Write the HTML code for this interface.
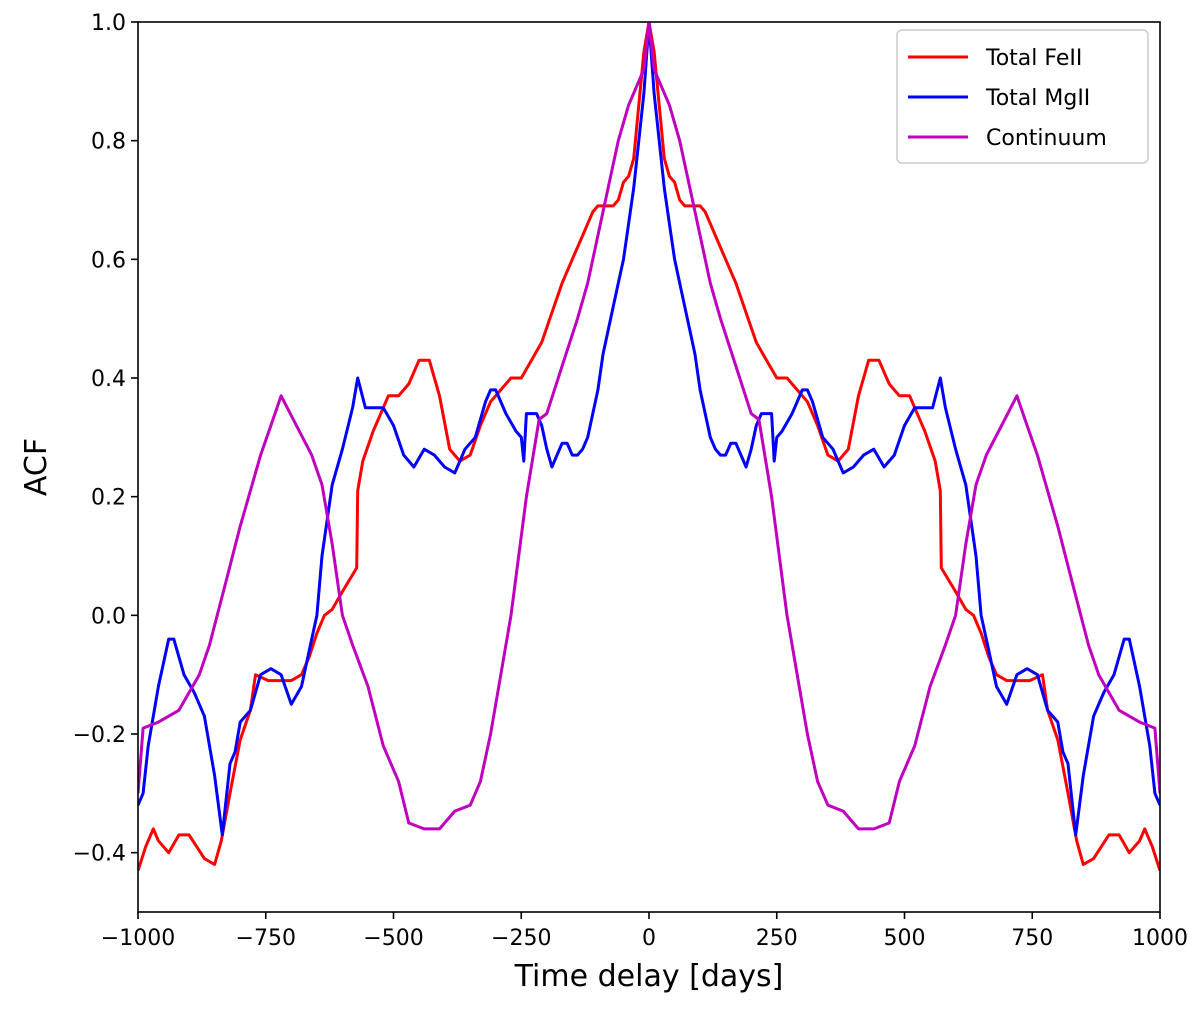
<!DOCTYPE html>
<html><head><meta charset="utf-8"><style>
body{margin:0;background:#fff;}
svg text{font-family:"DejaVu Sans","Liberation Sans",sans-serif;}
</style></head><body>
<svg id="chart" width="1200" height="1004" viewBox="0 0 1200 1004" xmlns="http://www.w3.org/2000/svg"></svg>
<script>
const xTicks=[-1000,-750,-500,-250,0,250,500,750,1000];
const xTickLabels=["\u22121000","\u2212750","\u2212500","\u2212250","0","250","500","750","1000"];
const yTicks=[-0.4,-0.2,0.0,0.2,0.4,0.6,0.8,1.0];
const yTickLabels=["\u22120.4","\u22120.2","0.0","0.2","0.4","0.6","0.8","1.0"];
const feLags=[0,10,20,30,40,50,60,70,80,100,110,120,130,150,170,190,210,230,250,270,290,310,330,350,370,390,410,430,450,470,490,510,540,560,570,572,600,620,635,650,665,680,700,720,745,770,780,800,820,837,850,870,900,920,940,960,970,985,1000];
const feVals=[1.0,0.95,0.86,0.77,0.74,0.73,0.70,0.69,0.69,0.69,0.68,0.66,0.64,0.60,0.56,0.51,0.46,0.43,0.40,0.40,0.38,0.36,0.32,0.27,0.26,0.28,0.37,0.43,0.43,0.39,0.37,0.37,0.31,0.26,0.21,0.08,0.04,0.01,0.0,-0.03,-0.07,-0.10,-0.11,-0.11,-0.11,-0.10,-0.16,-0.21,-0.30,-0.38,-0.42,-0.41,-0.37,-0.37,-0.40,-0.38,-0.36,-0.39,-0.43];
const mgLags=[0,10,20,30,40,50,60,70,80,90,100,110,120,130,140,150,160,170,180,190,200,210,220,240,245,250,260,280,300,310,320,340,360,380,400,420,440,460,480,500,520,540,555,570,580,600,620,640,650,660,680,700,720,740,760,780,800,810,820,835,850,870,890,910,930,940,960,980,990,1000];
const mgVals=[1.0,0.88,0.80,0.72,0.66,0.60,0.56,0.52,0.48,0.44,0.38,0.34,0.30,0.28,0.27,0.27,0.29,0.29,0.27,0.25,0.28,0.32,0.34,0.34,0.26,0.30,0.31,0.34,0.38,0.38,0.36,0.30,0.28,0.24,0.25,0.27,0.28,0.25,0.27,0.32,0.35,0.35,0.35,0.40,0.35,0.28,0.22,0.10,0.00,-0.04,-0.12,-0.15,-0.10,-0.09,-0.10,-0.16,-0.18,-0.23,-0.25,-0.37,-0.27,-0.17,-0.13,-0.10,-0.04,-0.04,-0.12,-0.22,-0.30,-0.32];
const coLags=[0,10,25,40,60,80,100,120,140,170,200,215,240,270,290,310,330,350,380,410,440,470,490,520,550,580,600,620,640,660,690,720,740,760,800,830,860,880,920,960,990,1000];
const coVals=[1.0,0.92,0.89,0.86,0.80,0.72,0.64,0.56,0.50,0.42,0.34,0.33,0.20,0.0,-0.10,-0.20,-0.28,-0.32,-0.33,-0.36,-0.36,-0.35,-0.28,-0.22,-0.12,-0.05,0.0,0.12,0.22,0.27,0.32,0.37,0.32,0.27,0.15,0.05,-0.05,-0.10,-0.16,-0.18,-0.19,-0.30];

const L=138,R=1160,T=22,B=912;
const X=v=>L+(v+1000)/2000*(R-L);
const Y=v=>B-(v+0.5)/1.5*(B-T);
const svg=document.getElementById('chart');
const NS='http://www.w3.org/2000/svg';
function mk(tag,attrs,parent){const e=document.createElementNS(NS,tag);for(const k in attrs)e.setAttribute(k,attrs[k]);(parent||svg).appendChild(e);return e;}

const clip=mk('clipPath',{id:'pc'});mk('rect',{x:L,y:T,width:R-L,height:B-T},clip);
const g=mk('g',{'clip-path':'url(#pc)'});
function seriesIn(lags,vals,color,name){
  const pts=[];
  for(let i=lags.length-1;i>0;i--)pts.push([-lags[i],vals[i]]);
  for(let i=0;i<lags.length;i++)pts.push([lags[i],vals[i]]);
  const d=pts.map((p,i)=>(i?'L':'M')+X(p[0]).toFixed(1)+' '+Y(p[1]).toFixed(1)).join(' ');
  const p=mk('path',{d:d,fill:'none',stroke:color,'stroke-width':3,'stroke-linejoin':'round'},g);
  
  
}
seriesIn(feLags,feVals,'#ff0000','feii-line');
seriesIn(mgLags,mgVals,'#0000ff','mgii-line');
seriesIn(coLags,coVals,'#bf00bf','continuum-line');

const frame=mk('rect',{x:L,y:T,width:R-L,height:B-T,fill:'none',stroke:'#000','stroke-width':1.6});



xTicks.forEach((v,i)=>{
  mk('line',{x1:X(v),x2:X(v),y1:B,y2:B+7,stroke:'#000','stroke-width':1.6});
  const t=mk('text',{x:X(v),y:B+33,'font-size':22,'text-anchor':'middle'});t.textContent=xTickLabels[i];
  
  
});
yTicks.forEach((v,i)=>{
  mk('line',{x1:L-7,x2:L,y1:Y(v),y2:Y(v),stroke:'#000','stroke-width':1.6});
  const t=mk('text',{x:L-12,y:Y(v)+8,'font-size':22,'text-anchor':'end'});t.textContent=yTickLabels[i];
  
  
});
const xt=mk('text',{x:(L+R)/2,y:986,'font-size':30,'text-anchor':'middle'});xt.textContent='Time delay [days]';

const yt=mk('text',{x:46,y:(T+B)/2,'font-size':30,'text-anchor':'middle',transform:'rotate(-90 46 '+(T+B)/2+')'});yt.textContent='ACF';


const lg=mk('g',{});

mk('rect',{x:897,y:30,width:251,height:133,rx:5,fill:'#fff',stroke:'#ccc','stroke-width':1.5},lg);
[['Total FeII','#ff0000'],['Total MgII','#0000ff'],['Continuum','#bf00bf']].forEach((e,i)=>{
  const y=57+i*40;
  const eg=mk('g',{},lg);
  
  
  mk('line',{x1:908,x2:968,y1:y,y2:y,stroke:e[1],'stroke-width':3},eg);
  const t=mk('text',{x:986,y:y+8,'font-size':22},eg);t.textContent=e[0];
});
</script>
</body></html>
